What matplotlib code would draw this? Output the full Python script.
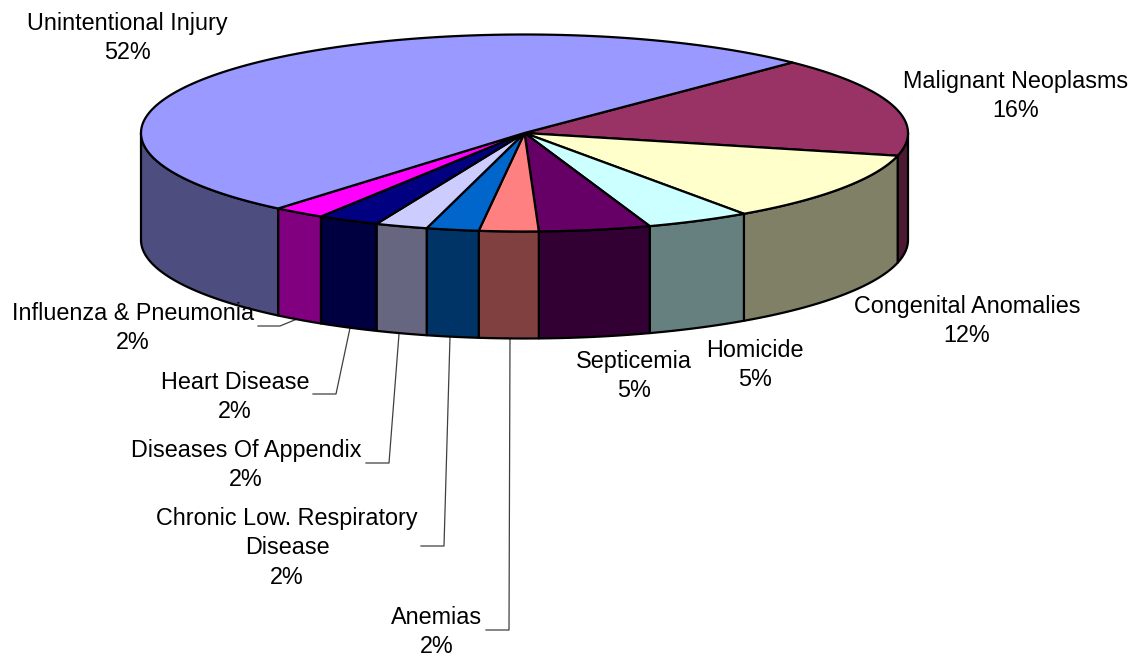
#!/usr/bin/env python

import numpy as np
import matplotlib
matplotlib.use("Agg")
import matplotlib.pyplot as plt

plt.rcParams['font.family'] = ['Liberation Sans', 'DejaVu Sans']

# slices, clockwise starting from the top right
names = ["Malignant Neoplasms", "Congenital Anomalies", "Homicide", "Septicemia", "Anemias",
         "Chronic Low. Respiratory\nDisease", "Diseases Of Appendix", "Heart Disease",
         "Influenza & Pneumonia", "Unintentional Injury"]
values = [16.4, 11.6, 4.4, 4.7, 2.5, 2.2, 2.2, 2.6, 2.2, 51.2]
percents = [16, 12, 5, 5, 2, 2, 2, 2, 2, 52]
top_colors = ["#993366", "#FFFFCC", "#CCFFFF", "#660066", "#FF8080",
              "#0066CC", "#CCCCFF", "#000080", "#FF00FF", "#9999FF"]
side_colors = ["#4D1A33", "#808066", "#668080", "#330033", "#804040",
               "#003366", "#666680", "#000040", "#800080", "#4D4D80"]

# where the labels sit (pixels)
label_x = [1016, 967, 755, 634, 437, 287, 246, 235, 133, 127]
label_y = [96, 321, 365, 376, 632, 548, 465, 397, 328, 38]

# leader lines for the small slices
leaders = [
    ([510, 509, 486], [338, 630, 630]),
    ([450, 444, 421], [337, 546, 546]),
    ([399, 389, 366], [334, 463, 463]),
    ([350, 336, 313], [328, 394, 394]),
    ([297, 280, 258], [319, 326, 326]),
]

cx, cy = 524.5, 133
rx, ry = 383.5, 98.5
depth = 107
start_angle = -45.7

fig = plt.figure(figsize=(11.35, 6.56), dpi=100)
ax = fig.add_axes([0, 0, 1, 1])
ax.set_xlim(0, 1135)
ax.set_ylim(656, 0)
ax.axis('off')


def rim(t0, t1):
    t = np.radians(np.linspace(t0, t1, max(int(abs(t1 - t0)) * 2, 2)))
    return cx + rx * np.cos(t), cy + ry * np.sin(t)


edges = start_angle + np.concatenate([[0], np.cumsum(values)]) * 360.0 / sum(values)

# outer wall, only the front half of the ellipse shows
for i in range(len(values)):
    t0 = max(edges[i], 0)
    t1 = min(edges[i + 1], 180)
    if t1 <= t0:
        continue
    x, y = rim(t0, t1)
    ax.fill(np.r_[x, x[::-1]], np.r_[y, y[::-1] + depth], facecolor=side_colors[i],
            edgecolor='black', lw=1.6, joinstyle='round', zorder=2)

# top face
for i in range(len(values)):
    x, y = rim(edges[i], edges[i + 1])
    ax.fill(np.r_[cx, x], np.r_[cy, y], facecolor=top_colors[i],
            edgecolor='black', lw=1.6, joinstyle='round', zorder=3)

for lx, ly in leaders:
    ax.plot(lx, ly, color='#404040', lw=0.9, zorder=1)

for name, p, tx, ty in zip(names, percents, label_x, label_y):
    ax.text(tx, ty, "%s\n%d%%" % (name, p), ha='center', va='center',
            multialignment='center', fontsize=16.8, linespacing=1.35, color='black', zorder=4)

fig.savefig("out.png", dpi=100)
